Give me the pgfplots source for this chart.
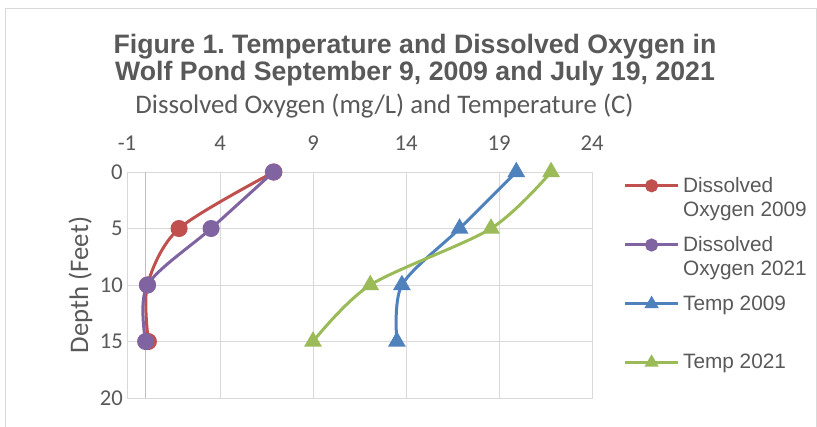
\documentclass[border=0pt]{standalone}
\usepackage{fontspec}
\usepackage{pgfplots}
\pgfplotsset{compat=1.18}
\newfontfamily\arialf{Liberation Sans}
\newfontfamily\calf{Carlito}
\definecolor{txt}{HTML}{595959}
\definecolor{gridc}{HTML}{D9D9D9}
\definecolor{axc}{HTML}{BFBFBF}
\definecolor{cred}{HTML}{C0504D}
\definecolor{cpur}{HTML}{8064A2}
\definecolor{cblu}{HTML}{4F81BD}
\definecolor{cgrn}{HTML}{9BBB59}
\frenchspacing
\begin{document}
\begin{tikzpicture}
\path[use as bounding box] (0,0) rectangle (612.75pt,-319.5pt);
\draw[gridc, line width=0.75pt] (3.75pt,-325pt) |- (612.2pt,-6pt) -- (612.2pt,-325pt);
\node[anchor=base, text=txt, inner sep=0pt, font=\arialf\bfseries\fontsize{20}{20}\selectfont] at (311.25pt,-39.75pt) {Figure 1. Temperature and Dissolved Oxygen in};
\node[anchor=base, text=txt, inner sep=0pt, font=\arialf\bfseries\fontsize{20}{20}\selectfont] at (311.25pt,-60pt) {Wolf Pond September 9, 2009 and July 19, 2021};
\node[anchor=base, text=txt, inner sep=0pt, font=\calf\fontsize{20.1}{21}\selectfont] at (288.4pt,-84.75pt) {Dissolved Oxygen (mg/L) and Temperature (C)};
\node[anchor=base, rotate=90, text=txt, inner sep=0pt, font=\calf\fontsize{20.1}{21}\selectfont] at (66pt,-213.75pt) {Depth (Feet)};
\begin{axis}[
  at={(95.25pt,-129pt)}, anchor=north west,
  scale only axis, width=348.75pt, height=169.5pt,
  xmin=-1, xmax=24, ymin=0, ymax=20, y dir=reverse,
  xtick={-1,4,9,14,19,24}, xticklabels={-1,4,9,14,19,24},
  ytick={0,5,10,15,20}, yticklabels={0,5,10,15,20},
  xticklabel pos=upper,
  major tick length=0pt,
  grid=major,
  major grid style={gridc, line width=0.75pt},
  axis line style={gridc, line width=0.75pt},
  x tick label style={anchor=base, yshift=16.5pt, inner sep=0pt, text=txt, font=\calf\fontsize{17}{18}\selectfont},
  y tick label style={anchor=east, xshift=-3pt, inner sep=0pt, text=txt, font=\calf\fontsize{17}{18}\selectfont},
  extra x ticks={0}, extra x tick labels={},
  extra x tick style={grid=major, major grid style={axc, line width=0.75pt}},
  legend image code/.code={\draw[mark repeat=2, mark phase=2, yshift=9pt, #1, /tikz/every mark/.append style={scale=0.72}] plot coordinates {(0pt,0pt) (20pt,0pt) (40pt,0pt)};},
  legend cell align=left,
  legend style={at={(1.067,0.978)}, anchor=north west, draw=none, fill=none, inner sep=0pt,
    row sep=13.6pt, column sep=2.5pt, text=txt,
    font=\arialf\fontsize{15.6}{18}\selectfont,
    nodes={inner sep=0pt, align=left}},
]
\addplot[cred, line width=2.25pt, smooth, tension=0.5, mark=*, mark size=5.25pt, mark options={solid}]
  coordinates {(6.9,0) (1.8,5) (0.1,10) (0.15,15)};
\addlegendentry{Dissolved\\Oxygen 2009}
\addplot[cpur, line width=2.25pt, smooth, tension=0.5, mark=*, mark size=5.25pt, mark options={solid}]
  coordinates {(6.87,0) (3.52,5) (0.1,10) (0.0,15)};
\addlegendentry{Dissolved\\Oxygen 2021}
\addplot[cblu, line width=2.25pt, smooth, tension=0.5, mark=triangle*, mark size=5.5pt, mark options={solid}]
  coordinates {(19.93,0) (16.88,5) (13.78,10) (13.51,15)};
\addlegendentry{Temp 2009\\\vphantom{y}}
\addplot[cgrn, line width=2.25pt, smooth, tension=0.5, mark=triangle*, mark size=5.5pt, mark options={solid}]
  coordinates {(21.8,0) (18.57,5) (12.08,10) (9.0,15)};
\addlegendentry{Temp 2021\\\vphantom{y}}
\end{axis}
\end{tikzpicture}
\end{document}
